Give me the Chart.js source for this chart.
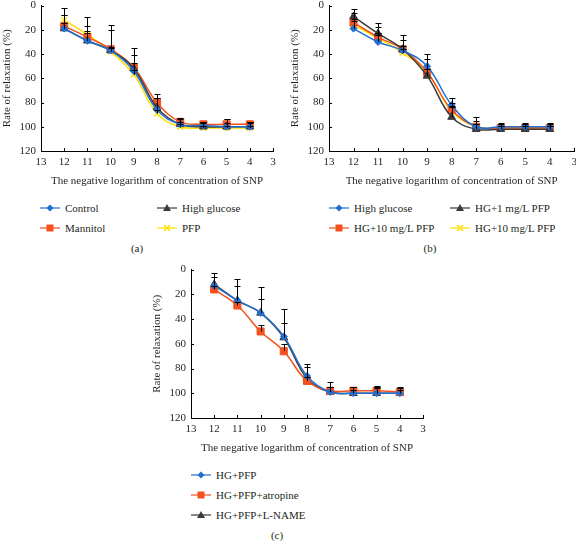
<!DOCTYPE html>
<html>
<head>
<meta charset="utf-8">
<script src="https://cdn.jsdelivr.net/npm/chart.js@4.4.1/dist/chart.umd.min.js"></script>
<style>
  body { margin: 0; background: #fff; width: 576px; height: 542px; position: relative; overflow: hidden;
         font-family: "Liberation Serif", "Times New Roman", serif; color: #231f20; }
  .box { position: absolute; }
  .leg { position: absolute; font-size: 11px; line-height: 14px; white-space: nowrap; }
  .leg svg { position: absolute; top: 1px; }
  .cap { position: absolute; font-size: 11px; transform: translateX(-50%); }
</style>
</head>
<body>
<div class="box" style="left:0;top:-6px;width:288px;height:196px"><canvas id="chartA"></canvas></div>
<div class="box" style="left:288px;top:-6px;width:294px;height:196px"><canvas id="chartB"></canvas></div>
<div class="box" style="left:150px;top:258px;width:290px;height:199px"><canvas id="chartC"></canvas></div>
<div id="legends"></div>
<div class="cap" style="left:137px;top:242px">(a)</div>
<div class="cap" style="left:430px;top:242px">(b)</div>
<div class="cap" style="left:277px;top:529px">(c)</div>

<script>
// x values: negative log of SNP concentration
const xVals = [12, 11, 10, 9, 8, 7, 6, 5, 4];
const yTicks = [0, 20, 40, 60, 80, 100, 120];

// (a)
const controlA = [19, 29, 37, 54, 86, 98, 99, 100, 100];
const highGlucoseA = [19, 29, 37, 52, 84, 98, 100, 100, 100];
const mannitolA = [17, 26, 36, 51, 80, 96, 98, 98, 98];
const pfpA = [12, 24, 38, 57, 89, 100, 101, 101, 101];
const controlErrA = [17, 20, 21, 19, 10, 5, 3, 3, 3];
const highGlucoseErrA = [11, 12, 17, 11, 11, 2, 3, 6, 4];
const mannitolErrA = [3, 3, 2, 4, 4, 2, 2, 4, 2];
const pfpErrA = [4, 3, 3, 4, 3, 2, 2, 2, 2];

// (b)
const highGlucoseB = [19, 30, 37, 50, 82, 100, 100, 100, 100];
const hg1B = [9, 23, 36, 58, 92, 102, 102, 102, 102];
const hg10B = [14, 26, 36, 55, 86, 100, 101, 101, 101];
const hg10bB = [16, 27, 39, 55, 87, 100, 101, 101, 101];
const highGlucoseErrB = [13, 12, 9, 10, 6, 5, 3, 3, 3];
const hg1ErrB = [6, 9, 12, 14, 12, 10, 4, 4, 4];
const hg10ErrB = [3, 3, 3, 3, 3, 2, 2, 2, 2];
const hg10bErrB = [3, 3, 3, 3, 3, 2, 2, 2, 2];

// (c)
const hgPfpC = [13, 25, 35, 54, 86, 99, 100, 100, 100];
const atropineC = [16, 29, 50, 66, 90, 98, 98, 98, 99];
const lNameC = [12, 25, 35, 55, 88, 99, 100, 100, 100];
const hgPfpErrC = [7, 12, 11, 11, 7, 4, 3, 4, 3];
const atropineErrC = [3, 3, 5, 6, 3, 3, 3, 3, 3];
const lNameErrC = [9, 17, 21, 23, 12, 8, 5, 6, 5];

const BLUE = '#1f6fd0', ORANGE = '#f4511e', DARK = '#3a3a3a', YELLOW = '#ffe000';
const TXT = '#231f20';

const styles = {
  blue:   { color: BLUE,   pointStyle: 'rectRot',  radius: 3.5, bw: 1 },
  orange: { color: ORANGE, pointStyle: 'rect',     radius: 5,   bw: 1 },
  dark:   { color: DARK,   pointStyle: 'triangle', radius: 4.5, bw: 1 },
  yellow: { color: YELLOW, pointStyle: 'crossRot', radius: 4,   bw: 1.5 }
};

function series(label, vals, errs, st) {
  const s = styles[st];
  return {
    label: label,
    data: xVals.map((x, i) => ({ x: x, y: vals[i] })),
    errors: errs,
    styleKey: st,
    borderColor: s.color,
    backgroundColor: s.color,
    borderWidth: 1.5,
    pointStyle: s.pointStyle,
    pointRadius: s.radius,
    pointBorderWidth: s.bw,
    pointBackgroundColor: s.color,
    pointBorderColor: s.color,
    tension: 0.4,
    fill: false
  };
}

const errorBars = {
  id: 'errorBars',
  afterDatasetsDraw(chart) {
    const { ctx, scales: { x, y } } = chart;
    ctx.save();
    ctx.strokeStyle = '#000';
    ctx.lineWidth = 1;
    chart.data.datasets.forEach(ds => {
      ds.data.forEach((p, i) => {
        const px = Math.round(x.getPixelForValue(p.x)) + 0.5;
        const y0 = y.getPixelForValue(p.y);
        const y1 = Math.round(y.getPixelForValue(p.y - ds.errors[i])) + 0.5;
        ctx.beginPath();
        ctx.moveTo(px, y0); ctx.lineTo(px, y1);
        ctx.moveTo(px - 3, y1); ctx.lineTo(px + 3, y1);
        ctx.stroke();
      });
    });
    ctx.restore();
  }
};

// tick marks pointing into the plot, like the original
const innerTicks = {
  id: 'innerTicks',
  afterDraw(chart) {
    const { ctx, scales: { x, y }, chartArea } = chart;
    ctx.save();
    ctx.strokeStyle = '#000';
    ctx.lineWidth = 1;
    ctx.beginPath();
    x.ticks.forEach(t => {
      const px = Math.round(x.getPixelForValue(t.value)) + 0.5;
      ctx.moveTo(px, chartArea.bottom); ctx.lineTo(px, chartArea.bottom - 3);
    });
    y.ticks.forEach(t => {
      const py = Math.round(y.getPixelForValue(t.value)) + 0.5;
      ctx.moveTo(chartArea.left, py); ctx.lineTo(chartArea.left + 3, py);
    });
    ctx.stroke();
    ctx.restore();
  }
};

function makeChart(id, datasets, padRight) {
  const font = { family: '"Liberation Serif", "Times New Roman", serif', size: 11 };
  return new Chart(document.getElementById(id), {
    type: 'line',
    data: { datasets: datasets },
    options: {
      responsive: true,
      maintainAspectRatio: false,
      animation: false,
      layout: { padding: { top: 0, right: padRight, left: 0, bottom: 0 } },
      plugins: { legend: { display: false }, tooltip: { enabled: false } },
      scales: {
        x: {
          type: 'linear', min: 3, max: 13, reverse: true,
          ticks: { stepSize: 1, color: TXT, font: font, padding: 5, maxRotation: 0 },
          grid: { drawOnChartArea: false, drawTicks: false },
          border: { color: '#000', width: 1 },
          title: { display: true, text: 'The negative logarithm of concentration of SNP', color: TXT, font: font, padding: { top: 0, bottom: 2 } },
          afterFit: s => { s.height = 39; }
        },
        y: {
          min: 0, max: 120, reverse: true,
          afterBuildTicks: s => { s.ticks = yTicks.map(v => ({ value: v })); },
          ticks: { color: TXT, font: font, padding: 5 },
          grid: { drawOnChartArea: false, drawTicks: false },
          border: { color: '#000', width: 1 },
          title: { display: true, text: 'Rate of relaxation (%)', color: TXT, font: font, padding: { top: 1, bottom: 0 } },
          afterFit: s => { s.width = 41; }
        }
      }
    },
    plugins: [errorBars, innerTicks]
  });
}

const setsA = [
  series('Control', controlA, controlErrA, 'blue'),
  series('High glucose', highGlucoseA, highGlucoseErrA, 'dark'),
  series('Mannitol', mannitolA, mannitolErrA, 'orange'),
  series('PFP', pfpA, pfpErrA, 'yellow')
];
const setsB = [
  series('High glucose', highGlucoseB, highGlucoseErrB, 'blue'),
  series('HG+1 mg/L PFP', hg1B, hg1ErrB, 'dark'),
  series('HG+10 mg/L PFP', hg10B, hg10ErrB, 'orange'),
  series('HG+10 mg/L PFP', hg10bB, hg10bErrB, 'yellow')
];
const setsC = [
  series('HG+PFP', hgPfpC, hgPfpErrC, 'blue'),
  series('HG+PFP+atropine', atropineC, atropineErrC, 'orange'),
  series('HG+PFP+L-NAME', lNameC, lNameErrC, 'dark')
];

makeChart('chartA', setsA, 15);
makeChart('chartB', setsB, 0);
makeChart('chartC', setsC, 17);

// legends: line with the marker in the middle, then the label
function markerSvg(st) {
  const s = styles[st];
  const c = s.color;
  let m = '';
  if (st === 'blue') m = `<polygon points="10,2.5 13.5,6 10,9.5 6.5,6" fill="${c}"/>`;
  if (st === 'orange') m = `<rect x="6.5" y="2.5" width="7" height="7" fill="${c}"/>`;
  if (st === 'dark') m = `<polygon points="10,2 14,9 6,9" fill="${c}"/>`;
  if (st === 'yellow') m = `<path d="M7,3 L13,9 M13,3 L7,9" stroke="${c}" stroke-width="1.5"/>`;
  return `<svg width="20" height="12"><line x1="0" y1="6" x2="20" y2="6" stroke="${c}" stroke-width="1.2"/>${m}</svg>`;
}

function legendItem(ds, left, top) {
  return `<div class="leg" style="left:${left}px;top:${top}px;">${markerSvg(ds.styleKey)}<span style="margin-left:25px">${ds.label}</span></div>`;
}

const legHtml = [
  legendItem(setsA[0], 40, 201), legendItem(setsA[1], 157, 201),
  legendItem(setsA[2], 40, 221), legendItem(setsA[3], 157, 221),
  legendItem(setsB[0], 329, 201), legendItem(setsB[1], 450, 201),
  legendItem(setsB[2], 329, 221), legendItem(setsB[3], 450, 221),
  legendItem(setsC[0], 191, 468), legendItem(setsC[1], 191, 488), legendItem(setsC[2], 191, 508)
];
document.getElementById('legends').innerHTML = legHtml.join('');
</script>
</body>
</html>
